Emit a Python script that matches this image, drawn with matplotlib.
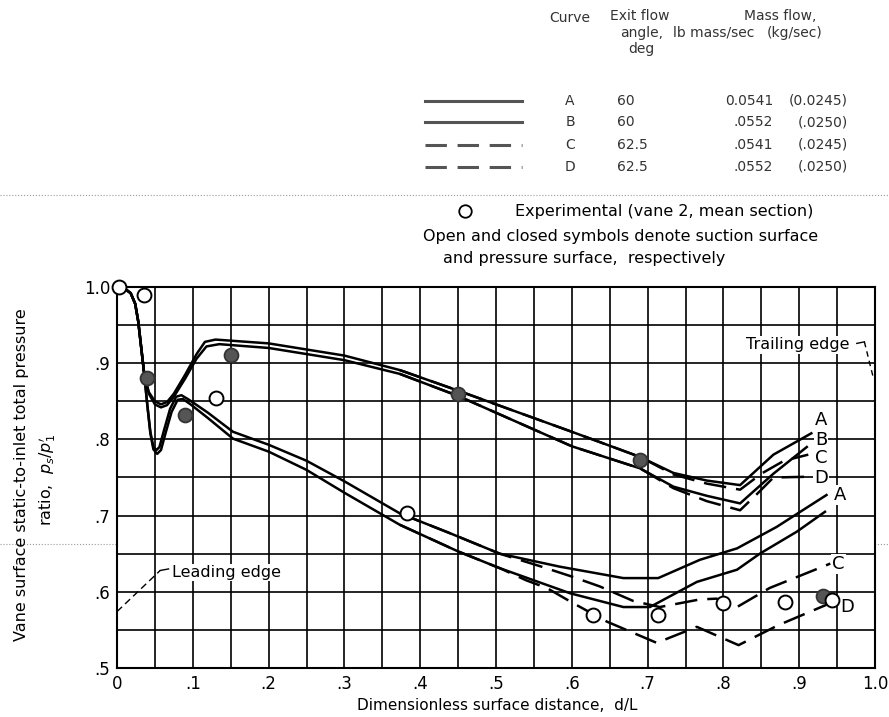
import matplotlib
matplotlib.use("Agg")
import matplotlib.pyplot as plt
import numpy as np
from matplotlib.lines import Line2D

plt.rcParams['font.family'] = ['DejaVu Sans']

W, H = 889, 717

# pressure surface, exit angle 60 / 62.5 deg, two mass flows
press_a_x = [0.0, 0.010, 0.018, 0.024, 0.028, 0.032, 0.036, 0.042, 0.050, 0.058, 0.066, 0.075,
             0.090, 0.105, 0.116, 0.130, 0.200, 0.300, 0.373, 0.450, 0.600, 0.690, 0.734,
             0.778, 0.822, 0.866, 0.916]
press_a_y = [1.000, 0.998, 0.992, 0.978, 0.955, 0.920, 0.885, 0.862, 0.850, 0.846, 0.849, 0.860,
             0.885, 0.912, 0.928, 0.931, 0.926, 0.910, 0.891, 0.864, 0.810, 0.777, 0.756,
             0.746, 0.740, 0.780, 0.808]
press_b_x = [0.0, 0.010, 0.018, 0.024, 0.028, 0.032, 0.036, 0.042, 0.050, 0.058, 0.066, 0.075,
             0.090, 0.105, 0.118, 0.135, 0.200, 0.300, 0.373, 0.450, 0.600, 0.690, 0.734,
             0.778, 0.822, 0.866, 0.910]
press_b_y = [1.000, 0.998, 0.992, 0.978, 0.955, 0.920, 0.885, 0.860, 0.846, 0.842, 0.845, 0.856,
             0.880, 0.906, 0.922, 0.925, 0.920, 0.904, 0.886, 0.857, 0.791, 0.762, 0.738,
             0.726, 0.716, 0.755, 0.790]
press_c_x = [0.373, 0.450, 0.600, 0.690, 0.734, 0.778, 0.822, 0.850, 0.880, 0.912]
press_c_y = [0.891, 0.864, 0.810, 0.777, 0.754, 0.742, 0.734, 0.755, 0.772, 0.780]
press_d_x = [0.373, 0.450, 0.600, 0.690, 0.734, 0.778, 0.822, 0.845, 0.866, 0.912]
press_d_y = [0.886, 0.857, 0.791, 0.762, 0.736, 0.719, 0.707, 0.729, 0.750, 0.751]

# suction surface
suct_a_x = [0.0, 0.010, 0.018, 0.024, 0.028, 0.032, 0.036, 0.040, 0.044, 0.048, 0.052, 0.056,
            0.062, 0.070, 0.078, 0.085, 0.095, 0.120, 0.153, 0.200, 0.250, 0.300, 0.373,
            0.439, 0.505, 0.584, 0.668, 0.714, 0.769, 0.818, 0.870, 0.936]
suct_a_y = [1.000, 0.998, 0.992, 0.978, 0.955, 0.920, 0.885, 0.845, 0.810, 0.790, 0.786, 0.790,
            0.812, 0.840, 0.856, 0.858, 0.852, 0.835, 0.810, 0.793, 0.772, 0.745, 0.703,
            0.677, 0.650, 0.633, 0.618, 0.618, 0.642, 0.657, 0.685, 0.727]
suct_b_x = [0.0, 0.010, 0.018, 0.024, 0.028, 0.032, 0.036, 0.040, 0.044, 0.048, 0.053, 0.058,
            0.064, 0.072, 0.080, 0.087, 0.097, 0.120, 0.153, 0.200, 0.250, 0.300, 0.373,
            0.450, 0.505, 0.598, 0.668, 0.703, 0.765, 0.818, 0.848, 0.897, 0.934]
suct_b_y = [1.000, 0.998, 0.992, 0.978, 0.955, 0.920, 0.885, 0.845, 0.808, 0.787, 0.781, 0.786,
            0.808, 0.836, 0.852, 0.853, 0.846, 0.828, 0.801, 0.784, 0.760, 0.730, 0.688,
            0.653, 0.631, 0.598, 0.580, 0.580, 0.613, 0.629, 0.650, 0.679, 0.705]
suct_c_x = [0.373, 0.439, 0.505, 0.560, 0.600, 0.637, 0.681, 0.716, 0.769, 0.791, 0.818, 0.861, 0.941]
suct_c_y = [0.703, 0.677, 0.650, 0.633, 0.620, 0.607, 0.588, 0.580, 0.590, 0.591, 0.580, 0.605, 0.637]
suct_d_x = [0.373, 0.450, 0.505, 0.540, 0.567, 0.602, 0.646, 0.712, 0.765, 0.820, 0.872, 0.936]
suct_d_y = [0.688, 0.653, 0.631, 0.615, 0.605, 0.585, 0.561, 0.533, 0.554, 0.530, 0.556, 0.583]

# experimental, vane 2 mean section
exp_open_x = [0.002, 0.035, 0.131, 0.382, 0.628, 0.714, 0.800, 0.881, 0.943]
exp_open_y = [1.000, 0.990, 0.854, 0.703, 0.570, 0.570, 0.585, 0.587, 0.589]
exp_fill_x = [0.039, 0.090, 0.151, 0.450, 0.690, 0.932]
exp_fill_y = [0.880, 0.832, 0.911, 0.860, 0.773, 0.594]

curve_names = ['A', 'B', 'C', 'D']
exit_angles = ['60', '60', '62.5', '62.5']
mass_lb = ['0.0541', '.0552', '.0541', '.0552']
mass_kg = ['(0.0245)', '(.0250)', '(.0245)', '(.0250)']

x_ticks = np.arange(0, 1.01, 0.1)
x_labels = ['0', '.1', '.2', '.3', '.4', '.5', '.6', '.7', '.8', '.9', '1.0']
y_ticks = np.arange(0.5, 1.01, 0.1)
y_labels = ['.5', '.6', '.7', '.8', '.9', '1.0']

DASH = (9, 4)


def fpos(x, y):
    return x / W, 1 - y / H


fig = plt.figure(figsize=(W / 100, H / 100), dpi=100)
ax = fig.add_axes([117 / W, 1 - 668 / H, 758 / W, 381 / H])

ax.set_xlim(0, 1.0)
ax.set_ylim(0.5, 1.0)
ax.set_xticks(x_ticks)
ax.set_xticklabels(x_labels)
ax.set_yticks(y_ticks)
ax.set_yticklabels(y_labels)
ax.set_xticks(np.arange(0, 1.01, 0.05), minor=True)
ax.set_yticks(np.arange(0.5, 1.01, 0.05), minor=True)
ax.grid(True, which='both', color='black', lw=1.2)
ax.set_axisbelow(True)
ax.tick_params(which='both', length=0, labelsize=12)
ax.tick_params(axis='x', pad=5)
ax.tick_params(axis='y', pad=5)
for s in ax.spines.values():
    s.set_linewidth(1.5)

lw = 1.8
ax.plot(press_a_x, press_a_y, color='black', lw=lw, zorder=3)
ax.plot(press_b_x, press_b_y, color='black', lw=lw, zorder=3)
ax.plot(press_c_x, press_c_y, color='black', lw=lw, dashes=DASH, zorder=3)
ax.plot(press_d_x, press_d_y, color='black', lw=lw, dashes=DASH, zorder=3)
ax.plot(suct_a_x, suct_a_y, color='black', lw=lw, zorder=3)
ax.plot(suct_b_x, suct_b_y, color='black', lw=lw, zorder=3)
ax.plot(suct_c_x, suct_c_y, color='black', lw=lw, dashes=DASH, zorder=3)
ax.plot(suct_d_x, suct_d_y, color='black', lw=lw, dashes=DASH, zorder=3)

ax.plot(exp_fill_x, exp_fill_y, 'o', ms=10, mfc='#555555', mec='#333333', mew=1.3,
        zorder=5, clip_on=False)
ax.plot(exp_open_x, exp_open_y, 'o', ms=10, mfc='white', mec='black', mew=1.4,
        zorder=5, clip_on=False)

box = dict(fc='white', ec='none', pad=0.8)
lab = dict(fontsize=13, family=['Liberation Sans Narrow', 'DejaVu Sans'],
           ha='center', va='center', bbox=box, zorder=4)
for name, yy in zip(curve_names, [0.825, 0.799, 0.775, 0.749]):
    ax.text(0.929, yy, name, **lab)
ax.text(0.954, 0.727, 'A', **lab)
ax.text(0.952, 0.637, 'C', **lab)
ax.text(0.963, 0.580, 'D', **lab)

# leading / trailing edge callouts
ax.plot([0.0, 0.057], [0.574, 0.628], color='black', lw=1.0, dashes=(5, 3), zorder=4)
ax.plot([0.057, 0.068], [0.628, 0.630], color='black', lw=1.0, zorder=4)
ax.text(0.073, 0.625, 'Leading edge', fontsize=11.5, ha='left', va='center',
        bbox=box, zorder=4)
ax.text(0.830, 0.924, 'Trailing edge', fontsize=11.5, ha='left', va='center',
        bbox=box, zorder=4)
ax.plot([0.976, 0.986], [0.926, 0.928], color='black', lw=1.0, zorder=4)
ax.plot([0.986, 0.998], [0.928, 0.880], color='black', lw=1.0, dashes=(4, 3),
        zorder=4, clip_on=False)

fig.text(*fpos(497, 705), 'Dimensionless surface distance,  d/L', fontsize=11,
         ha='center', va='center')
fig.text(*fpos(22, 475), 'Vane surface static-to-inlet total pressure', rotation=90,
         fontsize=11.5, ha='center', va='center')
fig.text(*fpos(47, 480), r"ratio,  $p_s/p_1^{\prime}$", rotation=90,
         fontsize=11.5, ha='center', va='center')

# curve table
hd = dict(fontsize=10, color='#333333', va='center')
fig.text(*fpos(570, 18), 'Curve', ha='center', **hd)
fig.text(*fpos(640, 16), 'Exit flow', ha='center', **hd)
fig.text(*fpos(642, 33), 'angle,', ha='center', **hd)
fig.text(*fpos(641, 49), 'deg', ha='center', **hd)
fig.text(*fpos(780, 16), 'Mass flow,', ha='center', **hd)
fig.text(*fpos(714, 33), 'lb mass/sec', ha='center', **hd)
fig.text(*fpos(795, 33), '(kg/sec)', ha='center', **hd)

row_y = [101, 122, 145, 167]
for i, yy in enumerate(row_y):
    x0, y0 = fpos(425, yy)
    x1, _ = fpos(522, yy)
    ln = Line2D([x0, x1], [y0, y0], transform=fig.transFigure, color='#555555', lw=2.2)
    if i >= 2:
        ln.set_dashes((7, 3.5))
    fig.add_artist(ln)
    fig.text(*fpos(570, yy), curve_names[i], ha='center', **hd)
    fig.text(*fpos(617, yy), exit_angles[i], ha='left', **hd)
    fig.text(*fpos(773, yy), mass_lb[i], ha='right', **hd)
    fig.text(*fpos(848, yy), mass_kg[i], ha='right', **hd)

fig.add_artist(Line2D([fpos(465, 211)[0]], [fpos(465, 211)[1]], transform=fig.transFigure,
                      marker='o', ms=9, mfc='white', mec='black', mew=1.3))
fig.text(*fpos(515, 211), 'Experimental (vane 2, mean section)', fontsize=11.5,
         ha='left', va='center')
fig.text(*fpos(423, 236), 'Open and closed symbols denote suction surface', fontsize=11.5,
         ha='left', va='center')
fig.text(*fpos(443, 259), 'and pressure surface,  respectively', fontsize=11.5,
         ha='left', va='center')

# faint dotted scan lines
for yy in [195, 544]:
    fig.add_artist(Line2D([0, 1], [fpos(0, yy)[1]] * 2, transform=fig.transFigure,
                          color='#9a9a9a', lw=0.8, ls=':', zorder=0))

fig.savefig('out.png', dpi=100)
